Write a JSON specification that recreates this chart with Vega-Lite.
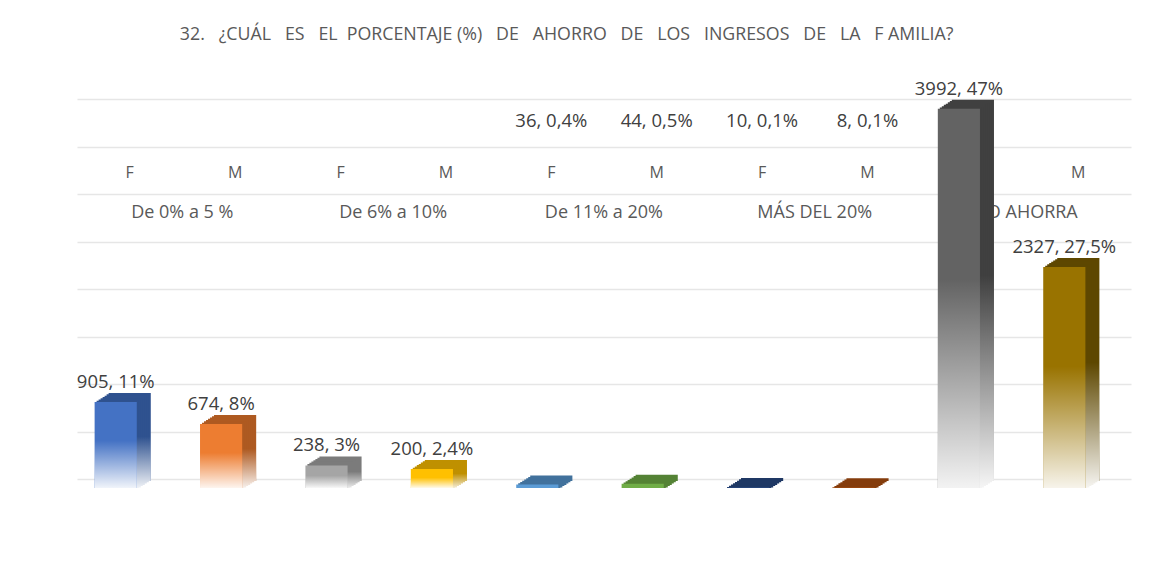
{
  "$schema": "https://vega.github.io/schema/vega-lite/v6.json",
  "autosize": "none",
  "width": 1054,
  "height": 380,
  "padding": {"left": 77, "top": 99, "right": 43, "bottom": 105},
  "background": "white",
  "view": {"stroke": null},
  "config": {"font": "Open Sans"},
  "title": {
    "text": "32.\u00a0\u00a0\u00a0¿CUÁL\u00a0\u00a0\u00a0ES\u00a0\u00a0\u00a0EL\u00a0\u00a0PORCENTAJE (%)\u00a0\u00a0\u00a0DE\u00a0\u00a0\u00a0AHORRO\u00a0\u00a0\u00a0DE\u00a0\u00a0\u00a0LOS\u00a0\u00a0\u00a0INGRESOS\u00a0\u00a0\u00a0DE\u00a0\u00a0\u00a0LA\u00a0\u00a0\u00a0F AMILIA?",
    "anchor": "start",
    "dx": 103,
    "offset": 36,
    "font": "Open Sans",
    "fontSize": 17.8,
    "fontWeight": "normal",
    "color": "#595959"
  },
  "data": {
    "values": [
      {"orden": 1, "rango": "De 0% a 5 %", "sexo": "F", "valor": 905, "etiqueta": "905, 11%"},
      {"orden": 2, "rango": "De 0% a 5 %", "sexo": "M", "valor": 674, "etiqueta": "674, 8%"},
      {"orden": 3, "rango": "De 6% a 10%", "sexo": "F", "valor": 238, "etiqueta": "238, 3%"},
      {"orden": 4, "rango": "De 6% a 10%", "sexo": "M", "valor": 200, "etiqueta": "200, 2,4%"},
      {"orden": 5, "rango": "De 11% a 20%", "sexo": "F", "valor": 36, "etiqueta": "36, 0,4%"},
      {"orden": 6, "rango": "De 11% a 20%", "sexo": "M", "valor": 44, "etiqueta": "44, 0,5%"},
      {"orden": 7, "rango": "MÁS DEL 20%", "sexo": "F", "valor": 10, "etiqueta": "10, 0,1%"},
      {"orden": 8, "rango": "MÁS DEL 20%", "sexo": "M", "valor": 8, "etiqueta": "8, 0,1%"},
      {"orden": 9, "rango": "NO AHORRA", "sexo": "F", "valor": 3992, "etiqueta": "3992, 47%"},
      {"orden": 10, "rango": "NO AHORRA", "sexo": "M", "valor": 2327, "etiqueta": "2327, 27,5%"}
    ]
  },
  "encoding": {
    "x": {"field": "orden", "type": "ordinal", "axis": null, "scale": {"paddingInner": 0.6, "paddingOuter": 0.3}},
    "y": {
      "field": "valor", "type": "quantitative",
      "scale": {"domain": [0, 4000], "nice": false},
      "axis": {"title": null, "labels": false, "ticks": false, "domain": false, "grid": true, "gridColor": "#E6E6E6", "gridWidth": 1.6, "values": [0, 500, 1000, 1500, 2000, 2500, 3000, 3500, 4000]}
    }
  },
  "layer": [
    {
      "mark": {"type": "text", "fontSize": 16, "color": "#595959", "baseline": "middle"},
      "encoding": {"y": {"datum": 3224}, "text": {"field": "sexo"}}
    },
    {
      "transform": [{"filter": "datum.sexo == 'F'"}],
      "mark": {"type": "text", "fontSize": 18, "color": "#595959", "baseline": "middle", "dx": 52.6},
      "encoding": {"y": {"datum": 2803}, "text": {"field": "rango"}}
    },
    {
      "mark": {"type": "bar", "xOffset": 0, "x2Offset": 0, "yOffset": 0, "y2Offset": 2},
      "encoding": {"y2": {"datum": 0}, "color": {"field": "orden", "type": "ordinal", "legend": null, "scale": {"range": ["#2F528F", "#AE5A21", "#7B7B7B", "#BF9000", "#41719C", "#548235", "#1F3864", "#843C0C", "#404040", "#5E4700"]}}}
    },
    {
      "mark": {"type": "bar", "xOffset": -2, "x2Offset": -2, "yOffset": 1.3, "y2Offset": 3.3},
      "encoding": {"y2": {"datum": 0}, "color": {"field": "orden", "type": "ordinal", "legend": null}}
    },
    {
      "mark": {"type": "bar", "xOffset": -4, "x2Offset": -4, "yOffset": 2.6, "y2Offset": 4.6},
      "encoding": {"y2": {"datum": 0}, "color": {"field": "orden", "type": "ordinal", "legend": null}}
    },
    {
      "mark": {"type": "bar", "xOffset": -6, "x2Offset": -6, "yOffset": 3.9, "y2Offset": 5.9},
      "encoding": {"y2": {"datum": 0}, "color": {"field": "orden", "type": "ordinal", "legend": null}}
    },
    {
      "mark": {"type": "bar", "xOffset": -8, "x2Offset": -8, "yOffset": 5.1, "y2Offset": 7.1},
      "encoding": {"y2": {"datum": 0}, "color": {"field": "orden", "type": "ordinal", "legend": null}}
    },
    {
      "mark": {"type": "bar", "xOffset": -10, "x2Offset": -10, "yOffset": 6.4, "y2Offset": 8.4},
      "encoding": {"y2": {"datum": 0}, "color": {"field": "orden", "type": "ordinal", "legend": null}}
    },
    {
      "mark": {"type": "bar", "xOffset": -12, "x2Offset": -12, "yOffset": 7.7, "y2Offset": 9},
      "encoding": {"y2": {"datum": 0}, "color": {"field": "orden", "type": "ordinal", "legend": null}}
    },
    {
      "transform": [{"filter": "datum.valor >= 100"}],
      "mark": {"type": "bar", "xOffset": 0, "x2Offset": 0, "yOffset": 0, "y2Offset": 11,
        "color": {"gradient": "linear", "x1": 0, "y1": 0, "x2": 0, "y2": 1, "stops": [{"offset": 0, "color": "rgba(255,255,255,0)"}, {"offset": 0.45, "color": "rgba(255,255,255,0)"}, {"offset": 1, "color": "rgba(255,255,255,0.96)"}]}},
      "encoding": {"y2": {"datum": 0}}
    },
    {
      "mark": {"type": "bar", "xOffset": -14, "x2Offset": -14, "yOffset": 9, "y2Offset": 9},
      "encoding": {"y2": {"datum": 0}, "fill": {"field": "orden", "type": "ordinal", "legend": null, "scale": {"range": ["#4472C4", "#ED7D31", "#A5A5A5", "#FFC000", "#5B9BD5", "#70AD47", "#264478", "#9E480E", "#636363", "#997300"]}}}
    },
    {
      "transform": [{"filter": "datum.valor >= 100"}],
      "mark": {"type": "bar", "xOffset": -14, "x2Offset": -14, "yOffset": 9, "y2Offset": 9,
        "color": {"gradient": "linear", "x1": 0, "y1": 0, "x2": 0, "y2": 1, "stops": [{"offset": 0, "color": "rgba(255,255,255,0)"}, {"offset": 0.45, "color": "rgba(255,255,255,0)"}, {"offset": 1, "color": "rgba(255,255,255,0.92)"}]}},
      "encoding": {"y2": {"datum": 0}}
    },
    {
      "transform": [{"filter": "datum.valor >= 100"}],
      "mark": {"type": "text", "fontSize": 18.5, "color": "#404040", "baseline": "alphabetic", "dx": -14, "dy": -5},
      "encoding": {"text": {"field": "etiqueta"}}
    },
    {
      "transform": [{"filter": "datum.valor < 100"}],
      "mark": {"type": "text", "fontSize": 18.5, "color": "#404040", "baseline": "middle"},
      "encoding": {"y": {"datum": 3765}, "text": {"field": "etiqueta"}}
    }
  ]
}
